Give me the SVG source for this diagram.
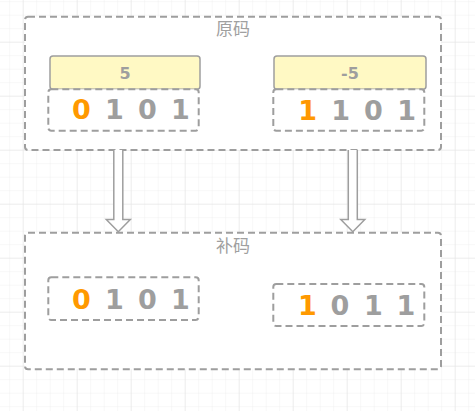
<svg xmlns="http://www.w3.org/2000/svg" width="475" height="411" viewBox="0 0 475 411">
<defs>
<pattern id="minor" patternUnits="userSpaceOnUse" x="22.7" y="41.7" width="13.5" height="13.5">
<path d="M0 0H13.5M0 0V13.5" fill="none" stroke="#f0f0f0" stroke-width="1"/>
</pattern>
<pattern id="major" patternUnits="userSpaceOnUse" x="22.7" y="41.7" width="54" height="54">
<path d="M0 0H54M0 0V54" fill="none" stroke="#e3e3e3" stroke-width="1"/>
</pattern>
</defs>
<style>
.group{fill:#ffffff;stroke:#9e9e9e;stroke-width:2;stroke-dasharray:7 4}
.bits{fill:#ffffff;stroke:#9e9e9e;stroke-width:2;stroke-dasharray:7 4}
.head{fill:#fff9c4;stroke:#9e9e9e;stroke-width:1.5}
.title{font-family:"Noto Sans CJK SC","Noto Sans",sans-serif;font-size:17px;fill:#a0a0a0;text-anchor:middle}
.num{font-family:"DejaVu Sans",sans-serif;font-weight:bold;font-size:16px;fill:#9e9e9e;text-anchor:middle}
.d{font-family:"DejaVu Sans",sans-serif;font-weight:bold;font-size:27px;fill:#9e9e9e;text-anchor:middle}
.o{fill:#ff9900}
.arrow{fill:#ffffff;stroke:#9e9e9e;stroke-width:1.5;stroke-linejoin:miter}
</style>
<rect width="475" height="411" fill="#ffffff"/>
<rect width="475" height="411" fill="url(#minor)"/>
<rect width="475" height="411" fill="url(#major)"/>

<g id="yuanma">
<rect class="group" x="25" y="16.7" width="416" height="133.3" rx="3"/>
<text class="title" x="233" y="34.5">原码</text>
</g>

<g id="buma">
<rect class="group" x="25" y="232.7" width="416" height="136.6" rx="3"/>
<text class="title" x="233" y="251.5">补码</text>
</g>

<g id="connectors">
<path class="arrow" d="M113.8 150V219.5H106.3L118.3 231.7L130.3 219.5H122.8V150"/>
<path class="arrow" d="M348.3 150V219.5H340.8L352.8 231.7L364.8 219.5H357.3V150"/>
</g>

<g id="pos5-label">
<rect class="head" x="50" y="56" width="150" height="33.3" rx="3"/>
<text class="num" x="125" y="79">5</text>
</g>
<g id="pos5-bits">
<rect class="bits" x="48.3" y="89.3" width="150.4" height="41.4" rx="3"/>
<text class="d o" x="81.3" y="119.3">0</text>
<text class="d" x="114.3" y="119.3">1</text>
<text class="d" x="147.3" y="119.3">0</text>
<text class="d" x="180.3" y="119.3">1</text>
</g>

<g id="neg5-label">
<rect class="head" x="274" y="56" width="152" height="33.3" rx="3"/>
<text class="num" x="350" y="79">-5</text>
</g>
<g id="neg5-bits">
<rect class="bits" x="273.3" y="89.3" width="151" height="41.4" rx="3"/>
<text class="d o" x="307.7" y="119.8">1</text>
<text class="d" x="340.7" y="119.8">1</text>
<text class="d" x="373.3" y="119.8">0</text>
<text class="d" x="406.7" y="119.8">1</text>
</g>

<g id="pos5-complement">
<rect class="bits" x="48.3" y="277.3" width="150.4" height="42.7" rx="3"/>
<text class="d o" x="81.3" y="308.5">0</text>
<text class="d" x="114.3" y="308.5">1</text>
<text class="d" x="147.3" y="308.5">0</text>
<text class="d" x="180.3" y="308.5">1</text>
</g>

<g id="neg5-complement">
<rect class="bits" x="273.3" y="284" width="151" height="42" rx="3"/>
<text class="d o" x="307.3" y="315.3">1</text>
<text class="d" x="340" y="315.3">0</text>
<text class="d" x="373.3" y="315.3">1</text>
<text class="d" x="406" y="315.3">1</text>
</g>
</svg>
